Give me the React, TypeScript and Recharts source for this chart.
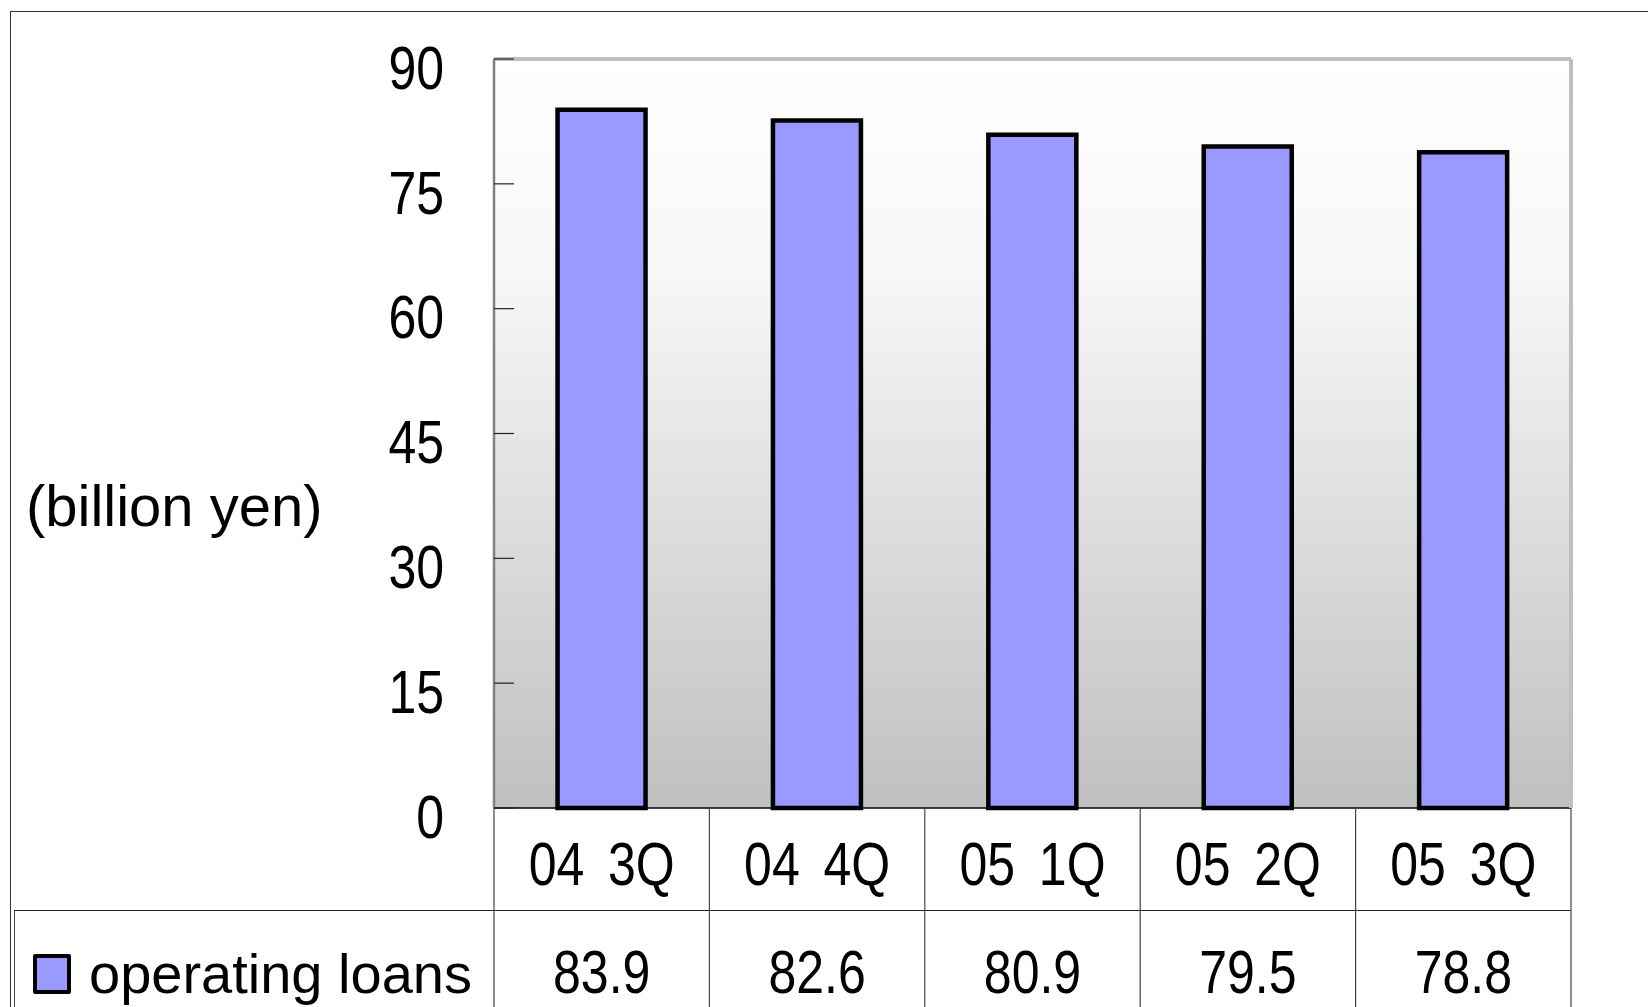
import React from 'react';
import {
  BarChart,
  Bar,
  XAxis,
  YAxis,
  CartesianGrid,
  ReferenceLine,
} from 'recharts';

const categories = ['04 3Q', '04 4Q', '05 1Q', '05 2Q', '05 3Q'];
const operatingLoans = [83.9, 82.6, 80.9, 79.5, 78.8];
const yTicks = [0, 15, 30, 45, 60, 75, 90];
const seriesName = 'operating loans';
const unitLabel = '(billion yen)';

const data = categories.map((cat, i) => ({ cat, loans: operatingLoans[i] }));

const W = 1648;
const H = 1007;
const LEFT = 494; // y axis width (plot left edge)
const RIGHT = 77;
const TOP = 59;
const XAXIS_H = 199;
const PLOT_W = W - LEFT - RIGHT;
const PLOT_BOTTOM = H - XAXIS_H;
const ROW_SPLIT = 910;
const BAND = PLOT_W / categories.length;

const FONT = "'Liberation Sans', Arial, sans-serif";

// condensed digits: Liberation Sans squeezed horizontally
const NarrowText = ({ x, y, anchor, children, wordSpacing = 0 }: any) => (
  <text
    transform={`translate(${x},${y}) scale(0.82,1)`}
    textAnchor={anchor}
    dominantBaseline="central"
    fontFamily={FONT}
    fontSize={61}
    fill="#000"
    style={{ whiteSpace: 'pre', wordSpacing }}
  >
    {children}
  </text>
);

const YTick = (props: any) => {
  const { y, payload } = props;
  return (
    <g>
      <line x1={LEFT} x2={LEFT + 20} y1={y} y2={y} stroke="#222" strokeWidth={1.2} />
      <NarrowText x={LEFT - 50} y={y + 9} anchor="end">
        {payload.value}
      </NarrowText>
    </g>
  );
};

const XTick = (props: any) => {
  const { x, payload, index } = props;
  const left = x - BAND / 2;
  const right = x + BAND / 2;
  return (
    <g>
      <line x1={left} x2={left} y1={PLOT_BOTTOM} y2={H} stroke="#444" strokeWidth={1.2} />
      {index === categories.length - 1 && (
        <line x1={right} x2={right} y1={PLOT_BOTTOM} y2={H} stroke="#444" strokeWidth={1.2} />
      )}
      <NarrowText x={x} y={864} anchor="middle" wordSpacing={12}>
        {payload.value}
      </NarrowText>
      <NarrowText x={x} y={972} anchor="middle">
        {operatingLoans[index]}
      </NarrowText>
    </g>
  );
};

export default function App() {
  return (
    <div
      style={{
        position: 'absolute',
        left: 0,
        top: 0,
        width: W,
        height: H,
        overflow: 'hidden',
        background: '#fff',
      }}
    >
      {/* outer frame */}
      <div
        style={{
          position: 'absolute',
          left: 10,
          top: 11,
          width: W,
          height: H,
          border: '1.5px solid #333',
        }}
      />
      {/* legend row cell borders */}
      <div
        style={{
          position: 'absolute',
          left: 14,
          top: ROW_SPLIT,
          width: LEFT - 14,
          height: H,
          borderTop: '1.5px solid #222',
          borderLeft: '1.5px solid #444',
        }}
      />
      <div
        style={{
          position: 'absolute',
          left: LEFT,
          top: ROW_SPLIT,
          width: PLOT_W,
          borderTop: '1.5px solid #222',
        }}
      />
      <div
        style={{
          position: 'absolute',
          left: 26,
          top: 505,
          transform: 'translateY(-50%)',
          fontFamily: FONT,
          fontSize: 58,
          color: '#000',
          whiteSpace: 'nowrap',
        }}
      >
        {unitLabel}
      </div>
      {/* legend */}
      <div
        style={{
          position: 'absolute',
          left: 33,
          top: 944,
          display: 'flex',
          alignItems: 'center',
        }}
      >
        <div
          style={{
            width: 30,
            height: 32,
            background: '#9999ff',
            border: '4px solid #000',
            borderRadius: 2,
            marginRight: 18,
          }}
        />
        <span style={{ fontFamily: FONT, fontSize: 56, color: '#000', lineHeight: '60px' }}>
          {seriesName}
        </span>
      </div>
      <BarChart
        width={W}
        height={H}
        data={data}
        margin={{ top: TOP, right: 0, bottom: 0, left: 0 }}
        barCategoryGap="29.5%"
        style={{ position: 'absolute', left: 0, top: 0 }}
      >
        <defs>
          <linearGradient id="plotBg" x1="0" y1="0" x2="0" y2="1">
            <stop offset="0%" stopColor="#ffffff" />
            <stop offset="30%" stopColor="#f6f6f6" />
            <stop offset="100%" stopColor="#c0c0c0" />
          </linearGradient>
        </defs>
        <CartesianGrid horizontal={false} vertical={false} fill="url(#plotBg)" />
        <ReferenceLine yAxisId="left" y={90} stroke="#c0c0c0" strokeWidth={4} />
        <XAxis
          dataKey="cat"
          height={XAXIS_H}
          axisLine={{ stroke: '#000', strokeWidth: 1.5 }}
          tickLine={false}
          tick={<XTick />}
          interval={0}
        />
        <YAxis
          yAxisId="left"
          width={LEFT}
          domain={[0, 90]}
          ticks={yTicks}
          axisLine={{ stroke: '#808080', strokeWidth: 2.5 }}
          tickLine={false}
          tick={<YTick />}
          interval={0}
        />
        <YAxis
          yAxisId="right"
          orientation="right"
          width={RIGHT}
          domain={[0, 90]}
          axisLine={{ stroke: '#c0c0c0', strokeWidth: 4 }}
          tickLine={false}
          tick={false}
        />
        <Bar
          yAxisId="left"
          dataKey="loans"
          name={seriesName}
          fill="#9999ff"
          stroke="#000"
          strokeWidth={4.5}
          isAnimationActive={false}
        />
      </BarChart>
    </div>
  );
}
